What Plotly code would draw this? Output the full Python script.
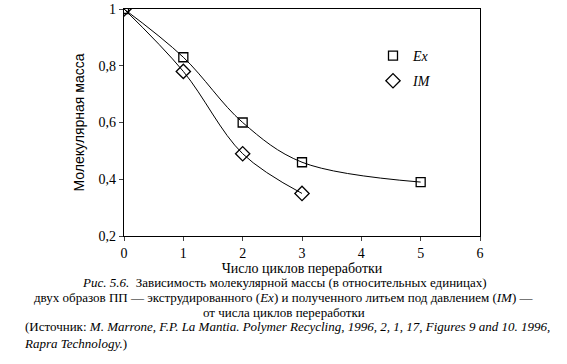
import plotly.graph_objects as go

ex_x = [0, 1, 2, 3, 5]
ex_y = [1.0, 0.83, 0.60, 0.46, 0.39]
im_x = [0, 1, 2, 3]
im_y = [1.0, 0.78, 0.49, 0.35]
x_ticks = [0, 1, 2, 3, 4, 5, 6]
y_ticks = [0.2, 0.4, 0.6, 0.8, 1.0]
y_tick_labels = ["0,2", "0,4", "0,6", "0,8", "1"]

caption = [
    "<i>Рис. 5.6.</i>  Зависимость молекулярной массы (в относительных единицах)",
    "двух образов ПП — экструдированного (<i>Ex</i>) и полученного литьем под давлением (<i>IM</i>) —",
    "от числа циклов переработки",
    "(Источник: <i>M. Marrone, F.P. La Mantia. Polymer Recycling, 1996, 2, 1, 17, Figures 9 and 10. 1996,</i>",
    "<i>Rapra Technology.</i>)",
]

FONT = "Liberation Serif"
W, H = 567, 364
L, R, T, B = 124, 480, 9, 236

fig = go.Figure()
fig.add_trace(go.Scatter(x=ex_x, y=ex_y, mode="lines+markers", showlegend=False,
                         line=dict(color="black", width=1, shape="spline", smoothing=1),
                         marker=dict(symbol="square-open", size=9, color="black", line=dict(width=1.3))))
fig.add_trace(go.Scatter(x=im_x, y=im_y, mode="lines+markers", showlegend=False,
                         line=dict(color="black", width=1, shape="spline", smoothing=1),
                         marker=dict(symbol="diamond-open", size=11, color="black", line=dict(width=1.3))))
fig.add_trace(go.Scatter(x=[None], y=[None], mode="markers", name="<i>Ex</i>", legendgroup="a",
                         marker=dict(symbol="square-open", size=9, color="black", line=dict(width=1.3))))
fig.add_trace(go.Scatter(x=[None], y=[None], mode="markers", name="<i>IM</i>", legendgroup="b",
                         marker=dict(symbol="diamond-open", size=11, color="black", line=dict(width=1.3))))

def px(x):
    return (x - L) / (R - L)

def py(y):
    return (B - y) / (B - T)

annots = []
line_y = [282, 297, 312]
for i in range(3):
    annots.append(dict(text=caption[i], x=px(284), y=py(line_y[i]), xref="paper", yref="paper",
                       xanchor="center", yanchor="middle", showarrow=False, borderpad=0,
                       font=dict(family=FONT, size=13, color="black")))
annots.append(dict(text=caption[3] + "<br>" + caption[4], x=px(287), y=py(318), xref="paper", yref="paper",
                   xanchor="center", yanchor="top", align="left", showarrow=False, borderpad=0,
                   font=dict(family=FONT, size=13, color="black")))

fig.update_layout(
    width=W, height=H,
    margin=dict(l=L, r=W - R, t=T, b=H - B, autoexpand=False),
    paper_bgcolor="white", plot_bgcolor="white",
    font=dict(family=FONT, size=14, color="black"),
    legend=dict(x=px(373), y=py(40), xanchor="left", yanchor="top", tracegroupgap=4,
                bgcolor="rgba(0,0,0,0)", font=dict(family=FONT, size=14), itemwidth=30),
    annotations=annots,
    xaxis=dict(range=[0, 6], tickvals=x_ticks, ticks="outside", ticklen=4, tickwidth=1,
               showline=True, linecolor="black", linewidth=1.2, mirror=True, showgrid=False,
               zeroline=False, tickfont=dict(family=FONT, size=14), automargin=False,
               ticklabeloverflow="allow",
               title=dict(text="Число циклов переработки", font=dict(family=FONT, size=14), standoff=1)),
    yaxis=dict(range=[0.2, 1.0], tickvals=y_ticks, ticktext=y_tick_labels, ticks="outside",
               ticklen=4, tickwidth=1, showline=True, linecolor="black", linewidth=1.2, mirror=True,
               showgrid=False, zeroline=False, tickfont=dict(family=FONT, size=14), automargin=False,
               ticklabeloverflow="allow",
               title=dict(text="Молекулярная масса", font=dict(family="Liberation Sans", size=14), standoff=10)),
)

fig.write_html("out.html", config={"displayModeBar": False},
               post_script="document.body.style.margin='0';")
